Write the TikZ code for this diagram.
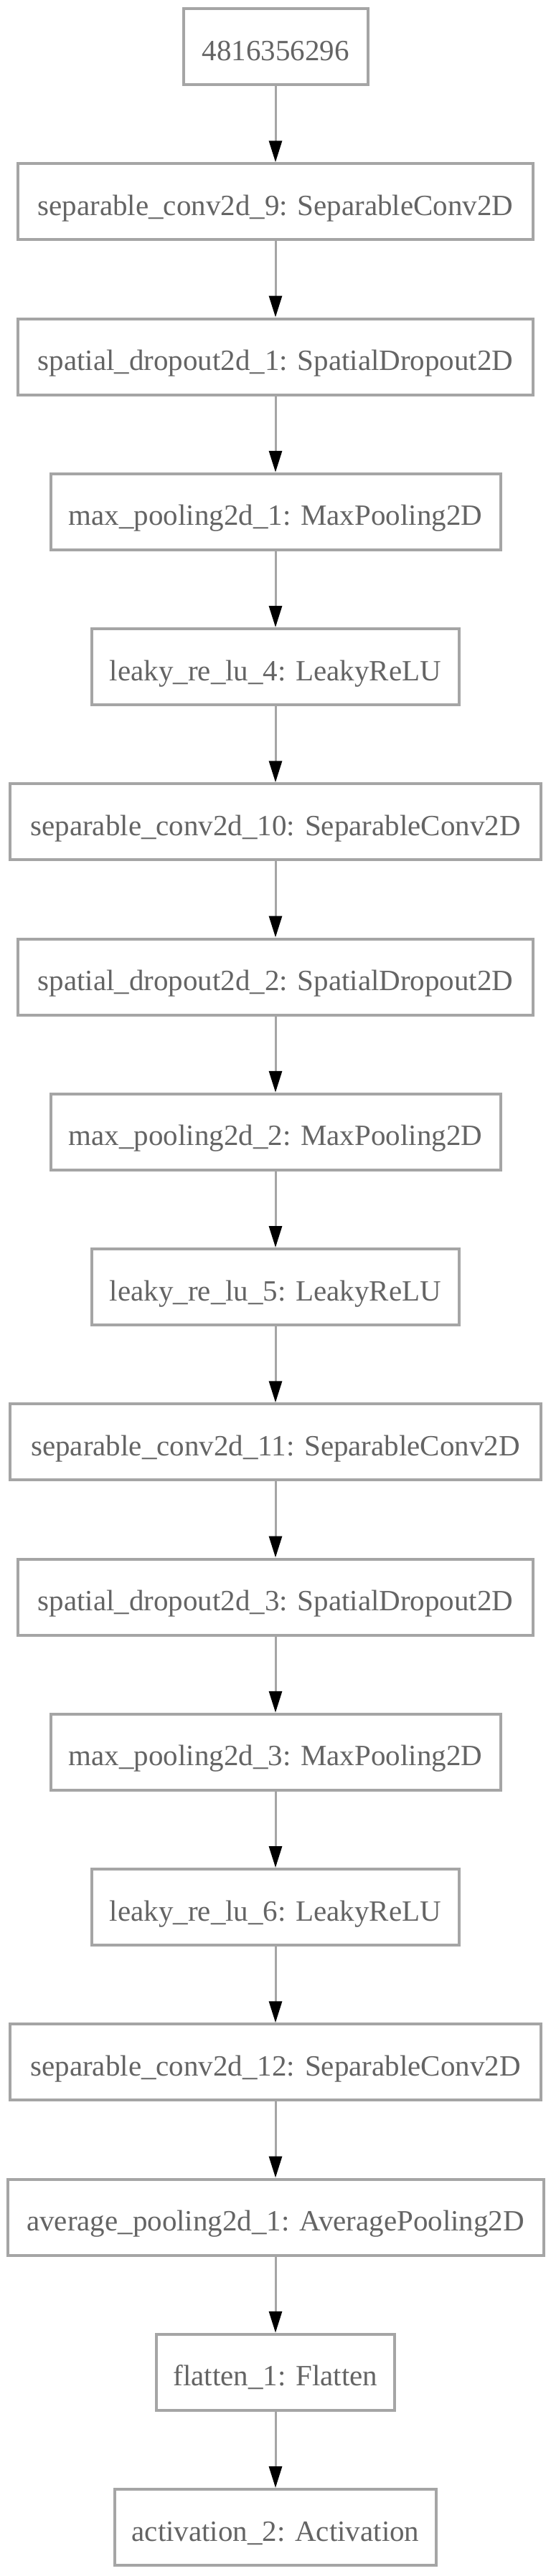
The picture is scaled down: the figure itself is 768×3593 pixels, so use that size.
\documentclass[tikz,border=0pt]{standalone}
\usepackage{fontspec}
\setmainfont{Liberation Serif}
\usetikzlibrary{arrows.meta}
\definecolor{edgegray}{RGB}{165,165,165}
\definecolor{txtgray}{RGB}{100,100,100}
\tikzset{
  layer/.style={draw=edgegray, line width=4pt, fill=white, rectangle,
    minimum height=106pt, inner sep=0pt, text height=38pt, text depth=0pt,
    text=txtgray, font=\fontsize{41}{49}\selectfont},
  flow/.style={draw=edgegray, line width=3pt,
    -{Triangle[length=30pt,width=18pt,color=black]}}
}
\begin{document}
\begin{tikzpicture}[x=1pt,y=-1pt]
\fill[white] (0,0) rectangle (768,3593);
\useasboundingbox (0,0) rectangle (768,3593);
\node[layer, minimum width=257pt] (b0) at (384,65) {4816356296};
\node[layer, minimum width=718pt] (b1) at (384,281.25) {separable\_conv2d\_9: SeparableConv2D};
\node[layer, minimum width=718pt] (b2) at (384,497.5) {spatial\_dropout2d\_1: SpatialDropout2D};
\node[layer, minimum width=627pt] (b3) at (384,713.75) {max\_pooling2d\_1: MaxPooling2D};
\node[layer, minimum width=512pt] (b4) at (384,930) {leaky\_re\_lu\_4: LeakyReLU};
\node[layer, minimum width=740pt] (b5) at (384,1146.25) {separable\_conv2d\_10: SeparableConv2D};
\node[layer, minimum width=718pt] (b6) at (384,1362.5) {spatial\_dropout2d\_2: SpatialDropout2D};
\node[layer, minimum width=627pt] (b7) at (384,1578.75) {max\_pooling2d\_2: MaxPooling2D};
\node[layer, minimum width=512pt] (b8) at (384,1795) {leaky\_re\_lu\_5: LeakyReLU};
\node[layer, minimum width=740pt] (b9) at (384,2011.25) {separable\_conv2d\_11: SeparableConv2D};
\node[layer, minimum width=718pt] (b10) at (384,2227.5) {spatial\_dropout2d\_3: SpatialDropout2D};
\node[layer, minimum width=627pt] (b11) at (384,2443.75) {max\_pooling2d\_3: MaxPooling2D};
\node[layer, minimum width=512pt] (b12) at (384,2660) {leaky\_re\_lu\_6: LeakyReLU};
\node[layer, minimum width=740pt] (b13) at (384,2876.25) {separable\_conv2d\_12: SeparableConv2D};
\node[layer, minimum width=747pt] (b14) at (384,3092.5) {average\_pooling2d\_1: AveragePooling2D};
\node[layer, minimum width=332pt] (b15) at (384,3308.75) {flatten\_1: Flatten};
\node[layer, minimum width=448pt] (b16) at (384,3525) {activation\_2: Activation};
\foreach \a/\b in {b0/b1,b1/b2,b2/b3,b3/b4,b4/b5,b5/b6,b6/b7,b7/b8,b8/b9,b9/b10,b10/b11,b11/b12,b12/b13,b13/b14,b14/b15,b15/b16}
  \draw[flow] (\a.south) -- (\b.north);
\end{tikzpicture}
\end{document}
